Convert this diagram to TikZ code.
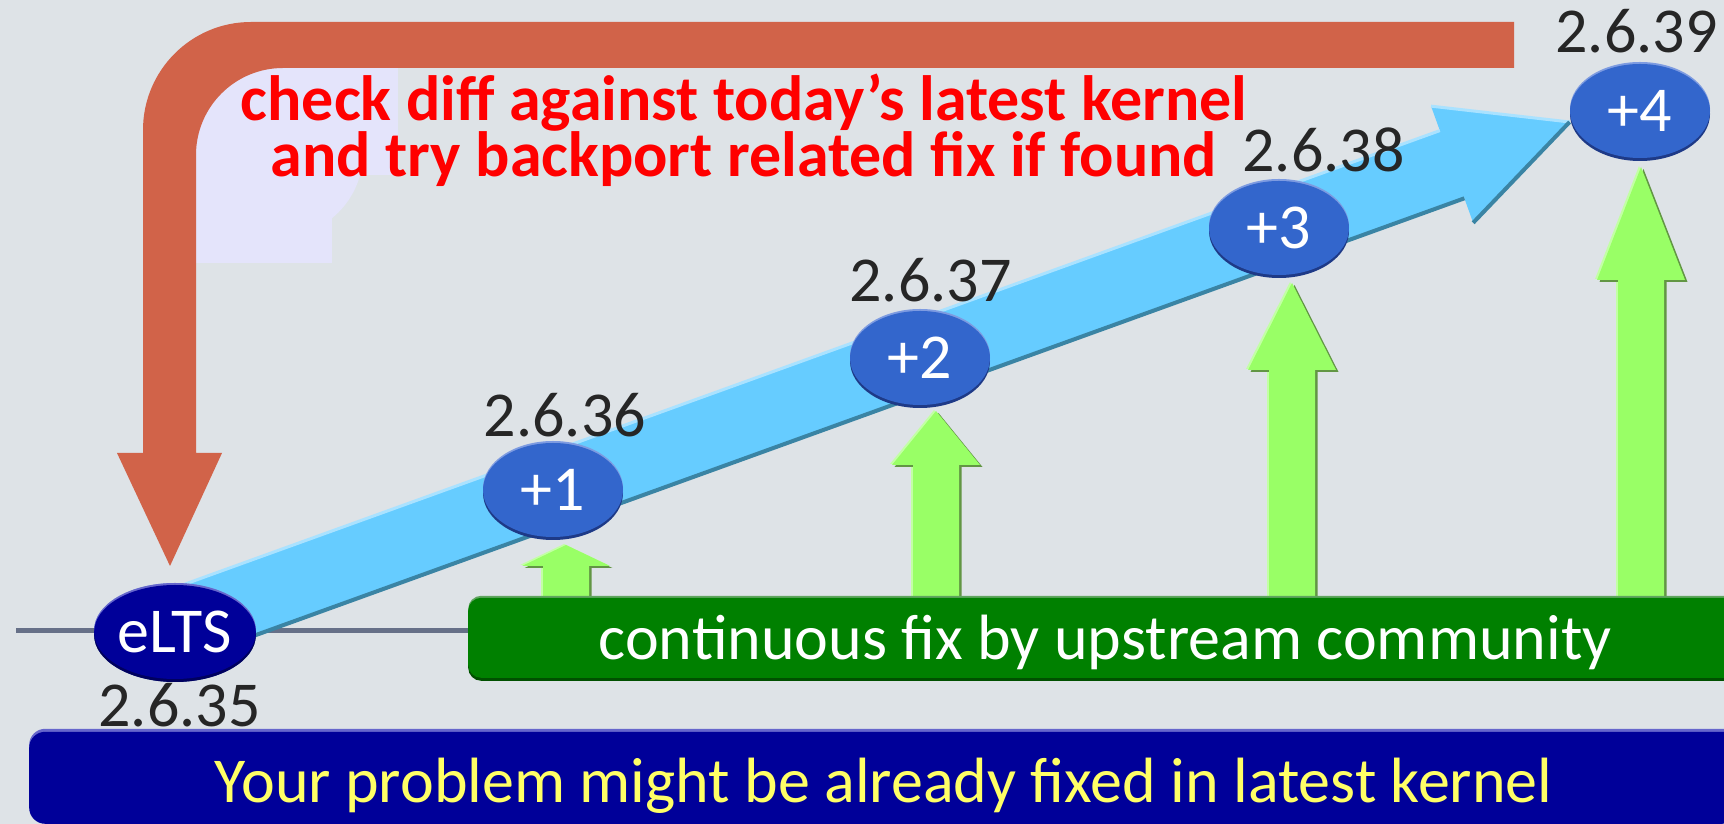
\documentclass[tikz,border=0pt]{standalone}
\usepackage{fontspec}
\setmainfont{Carlito}
\usetikzlibrary{shapes.geometric}

\definecolor{bgcol}{RGB}{222,227,231}
\definecolor{loopcol}{RGB}{209,99,73}
\definecolor{lavcol}{RGB}{228,228,251}
\definecolor{skycol}{RGB}{102,204,255}
\definecolor{skyhi}{RGB}{170,226,255}
\definecolor{skylo}{RGB}{58,132,164}
\definecolor{relcol}{RGB}{51,102,204}
\definecolor{relhi}{RGB}{125,155,225}
\definecolor{rello}{RGB}{30,58,135}
\definecolor{navycol}{RGB}{0,0,153}
\definecolor{navyhi}{RGB}{102,102,204}
\definecolor{navylo}{RGB}{0,0,95}
\definecolor{fixcol}{RGB}{153,255,102}
\definecolor{fixhi}{RGB}{195,255,165}
\definecolor{fixlo}{RGB}{98,150,68}
\definecolor{boxgreen}{RGB}{0,128,0}
\definecolor{boxgreenhi}{RGB}{95,165,95}
\definecolor{boxgreenlo}{RGB}{0,80,0}
\definecolor{numcol}{RGB}{38,38,38}
\definecolor{linecol}{RGB}{102,112,136}
\definecolor{hintcol}{RGB}{255,255,102}

\newcommand\bigfont{\fontsize{64}{64}\selectfont}
% upward block arrow: centre x, head base y, tip y
\newcommand\fixarrowat[3]{%
  \fill[fixarrow] ({#1-23},200) -- ({#1-23},#2) -- ({#1-44},#2) -- (#1,#3)
    -- ({#1+44},#2) -- ({#1+23},#2) -- ({#1+23},200) -- cycle;}

\begin{document}
\begin{tikzpicture}[x=1pt,y=1pt,
  release/.style={ellipse, minimum width=140, minimum height=94, inner sep=0,
    fill=relcol, text=white, font=\bigfont,
    preaction={fill=relhi, transform canvas={yshift=2pt}},
    preaction={fill=rello, transform canvas={yshift=-3pt}}},
  basever/.style={release, fill=navycol,
    preaction={fill=navyhi, transform canvas={yshift=2pt}},
    preaction={fill=navylo, transform canvas={yshift=-3pt}}},
  version/.style={font=\bigfont, text=numcol, anchor=base, inner sep=0},
  notetext/.style={font=\fontsize{64}{55}\selectfont\bfseries, text=red,
    align=center, anchor=base, inner sep=0},
  fixarrow/.style={fill=fixcol,
    preaction={fill=fixhi, transform canvas={xshift=-2pt,yshift=1pt}},
    preaction={fill=fixlo, transform canvas={xshift=2.5pt,yshift=-2pt}}},
  banner/.style={rectangle, inner sep=0, font=\bigfont, anchor=south west}]

\useasboundingbox (0,0) rectangle (1724,824);
\fill[bgcol] (0,0) rectangle (1724,824);

% pale patch inside the bend of the feedback arrow
\fill[lavcol] (279,671) circle[radius=84];
\fill[lavcol] (195,561) rectangle (332,669);
\fill[lavcol] (262,649) rectangle (398,757);

% feedback arrow bending down to the base release
\fill[loopcol] (1514,802) -- (251,802) arc[start angle=90,end angle=180,radius=108]
  -- (143,371) -- (117,371) -- (170,258) -- (222,371) -- (196,371)
  -- (196,669) arc[start angle=180,end angle=90,radius=87] -- (1514,756) -- cycle;

% upstream fixes flowing into each release
\fixarrowat{566}{258}{279}
\fixarrowat{936}{359}{413}
\fixarrowat{1292}{454}{541}
\fixarrowat{1641}{544}{657}

% banners
\node[banner, fill=boxgreen, rounded corners=13, minimum width=1274, minimum height=80,
  text=white, text height=52, text depth=8,
  preaction={fill=boxgreenhi, transform canvas={yshift=2pt}},
  preaction={fill=boxgreenlo, transform canvas={yshift=-3pt}}]
  (fixbox) at (468,146) {continuous fix by upstream community};
\node[banner, fill=navycol, rounded corners=16, minimum width=1709, minimum height=92,
  text=hintcol, text height=56, text depth=6,
  preaction={fill=navyhi, transform canvas={yshift=3pt}}]
  (hint) at (29,0) {Your problem might be already fixed in latest kernel};

% time line
\coordinate (lineL) at (16,193.5);
\draw[linecol, line width=5] (lineL) -- (lineL -| fixbox.west);

% release progression arrow
\begin{scope}[shift={(175,198)}, rotate=19.87]
  \fill[skycol] (0,-36) -- (1358,-36) -- (1358,-62) -- (1483,0) -- (1358,62)
    -- (1358,36) -- (0,36) -- cycle;
  \draw[skyhi, line width=3] (0,36) -- (1358,36) (1358,62) -- (1483,0);
  \draw[skylo, line width=4] (0,-36) -- (1358,-36) (1358,-62) -- (1483,0);
\end{scope}

% releases
\node[basever] (elts) at (175,192) {eLTS};
\node[release] (p1) at (553,334) {+1};
\node[release] (p2) at (920,466) {+2};
\node[release] (p3) at (1279,596) {+3};
\node[release] (p4) at (1640,713) {+4};

\node[version] (v35) at (179.5,97) {2.6.35};
\node[version] (v36) at (565,387) {2.6.36};
\node[version] (v37) at (930.5,522) {2.6.37};
\node[version] (v38) at (1323.5,652) {2.6.38};
\node[version] (v39) at (1636.5,771) {2.6.39};

% advice, two tightly set lines (base anchor sits on the last line)
\node[notetext] (note) at (744,647)
  {check diff against today’s latest kernel\\and try backport related fix if found};
\end{tikzpicture}
\end{document}
